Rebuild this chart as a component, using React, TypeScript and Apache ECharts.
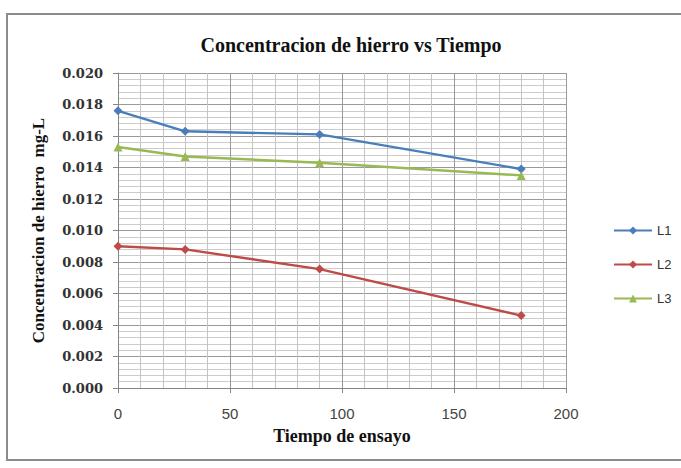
import React, { useEffect, useRef } from "react";
import * as echarts from "echarts";

const times = [0, 30, 90, 180];
const L1 = [0.0176, 0.0163, 0.0161, 0.0139];
const L2 = [0.0090, 0.0088, 0.00755, 0.0046];
const L3 = [0.0153, 0.0147, 0.0143, 0.0135];
const seriesNames = ["L1", "L2", "L3"];
const seriesColors = ["#4A7EBB", "#BE4B48", "#98B954"];
const seriesSymbols = ["diamond", "diamond", "triangle"];

export default function App() {
  const ref = useRef<HTMLDivElement>(null);
  useEffect(() => {
    document.body.style.margin = "0";
    const chart = echarts.init(ref.current!, null, { renderer: "svg" });
    const datas = [L1, L2, L3];
    const serif = "'Liberation Serif', 'DejaVu Serif', serif";
    const wideSerif = "'DejaVu Serif', 'Liberation Serif', serif";
    const sans = "'Liberation Sans', Arial, sans-serif";
    chart.setOption({
      animation: false,
      backgroundColor: "#ffffff",
      title: {
        text: "Concentracion de hierro vs Tiempo",
        left: 346,
        textAlign: "center",
        top: 30,
        textStyle: { fontFamily: serif, fontWeight: "bold", fontSize: 20, color: "#111" },
      },
      graphic: [
        {
          type: "rect",
          shape: { x: 7, y: 14, width: 690, height: 446 },
          style: { fill: "none", stroke: "#8c8c8c", lineWidth: 2 },
          silent: true,
        },
      ],
      legend: {
        orient: "vertical",
        left: 608,
        top: 219,
        itemGap: 21,
        itemWidth: 38,
        itemHeight: 10,
        textStyle: { fontFamily: sans, fontSize: 13, color: "#333" },
        data: seriesNames,
      },
      grid: { left: 118, top: 73, width: 448, height: 315, containLabel: false },
      xAxis: {
        type: "value",
        min: 0,
        max: 200,
        interval: 50,
        name: "Tiempo de ensayo",
        nameLocation: "middle",
        nameGap: 39,
        nameTextStyle: { fontFamily: serif, fontWeight: "bold", fontSize: 18, color: "#111" },
        axisLine: { show: true, lineStyle: { color: "#868686" } },
        axisTick: { show: true, length: 5, lineStyle: { color: "#868686" } },
        axisLabel: { fontFamily: sans, fontSize: 15, color: "#444", margin: 18 },
        splitLine: { show: true, lineStyle: { color: "#9a9a9a", width: 1 } },
        minorTick: { show: false, splitNumber: 5 },
        minorSplitLine: { show: true, lineStyle: { color: "#c4c4c4", width: 1 } },
      },
      yAxis: {
        type: "value",
        min: 0,
        max: 0.02,
        interval: 0.002,
        name: "Concentracion de hierro  mg-L",
        nameLocation: "middle",
        nameGap: 71,
        nameTextStyle: { fontFamily: serif, fontWeight: "bold", fontSize: 17, color: "#111" },
        axisLine: { show: true, lineStyle: { color: "#868686" } },
        axisTick: { show: true, length: 5, lineStyle: { color: "#868686" } },
        axisLabel: {
          fontFamily: wideSerif,
          fontWeight: "bold",
          fontSize: 13,
          color: "#333",
          margin: 15,
          formatter: (v: number) => v.toFixed(3),
        },
        splitLine: { show: true, lineStyle: { color: "#9a9a9a", width: 1 } },
        minorTick: { show: false, splitNumber: 5 },
        minorSplitLine: { show: true, lineStyle: { color: "#cccccc", width: 1 } },
      },
      series: seriesNames.map((n, i) => ({
        name: n,
        type: "line",
        data: times.map((t, j) => [t, datas[i][j]]),
        symbol: seriesSymbols[i],
        symbolSize: 9,
        lineStyle: { color: seriesColors[i], width: 2.4 },
        itemStyle: { color: seriesColors[i] },
      })),
    });
    return () => chart.dispose();
  }, []);
  return <div ref={ref} style={{ width: 681, height: 468 }} />;
}
